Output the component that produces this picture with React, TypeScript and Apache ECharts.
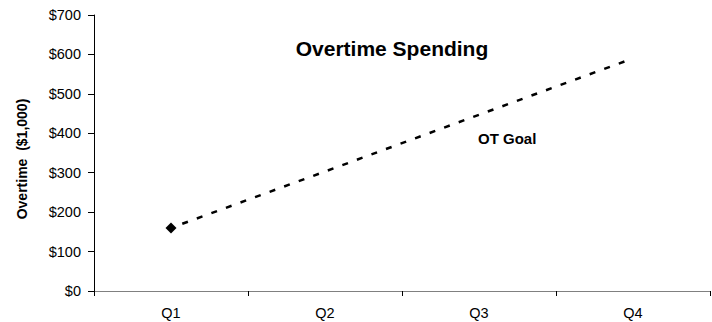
import React, { useEffect, useRef } from "react";
import * as echarts from "echarts";

const quarters = ["Q1", "Q2", "Q3", "Q4"];
const actualSpend: (number | null)[] = [160, null, null, null];
const otGoal = [160, 303, 447, 590];
const yTicks = [0, 100, 200, 300, 400, 500, 600, 700];

const FONT = "'Liberation Sans', Arial, sans-serif";

export default function App() {
  const ref = useRef<HTMLDivElement>(null);

  useEffect(() => {
    if (!ref.current) return;
    const chart = echarts.init(ref.current, undefined, { renderer: "svg" });
    chart.setOption({
      animation: false,
      textStyle: { fontFamily: FONT },
      title: {
        text: "Overtime Spending",
        left: 387,
        top: 33,
        textAlign: "center",
        textStyle: { fontFamily: FONT, fontSize: 21, fontWeight: "bold", color: "#000" },
      },
      grid: { left: 94, right: 2, top: 15, bottom: 31 },
      xAxis: {
        type: "category",
        data: quarters,
        boundaryGap: true,
        axisLine: { lineStyle: { color: "#808080", width: 1 } },
        axisTick: { show: true, alignWithLabel: false, length: 5, lineStyle: { color: "#000" } },
        axisLabel: { color: "#000", fontSize: 14.5, fontFamily: FONT, margin: 14 },
        splitLine: { show: false },
      },
      yAxis: {
        type: "value",
        min: yTicks[0],
        max: yTicks[yTicks.length - 1],
        interval: 100,
        axisLine: { show: true, lineStyle: { color: "#000", width: 1 } },
        axisTick: { show: true, length: 6, lineStyle: { color: "#000" } },
        axisLabel: {
          color: "#000",
          fontSize: 14.5,
          fontFamily: FONT,
          margin: 13,
          formatter: (v: number) => "$" + v,
        },
        splitLine: { show: false },
      },
      series: [
        {
          name: "OT Goal",
          type: "line",
          data: otGoal,
          symbol: "none",
          lineStyle: { color: "#000", width: 2.5, type: [6, 9.5], dashOffset: -12 },
          z: 2,
        },
        {
          name: "Actual",
          type: "line",
          data: actualSpend,
          symbol: "diamond",
          symbolSize: 11,
          itemStyle: { color: "#000" },
          lineStyle: { color: "#000", width: 2 },
          z: 3,
        },
      ],
      graphic: [
        {
          type: "text",
          x: 21.5,
          y: 159,
          rotation: Math.PI / 2,
          style: {
            text: "Overtime  ($1,000)",
            fontFamily: FONT,
            fontSize: 14,
            fontWeight: "bold",
            fill: "#000",
            align: "center",
            verticalAlign: "middle",
          },
        },
        {
          type: "text",
          left: 478,
          top: 131,
          style: {
            text: "OT Goal",
            fontFamily: FONT,
            fontSize: 15,
            fontWeight: "bold",
            fill: "#000",
          },
        },
      ],
    });
    return () => chart.dispose();
  }, []);

  return <div ref={ref} style={{ width: 712, height: 322, position: "absolute", left: 0, top: 0 }} />;
}
